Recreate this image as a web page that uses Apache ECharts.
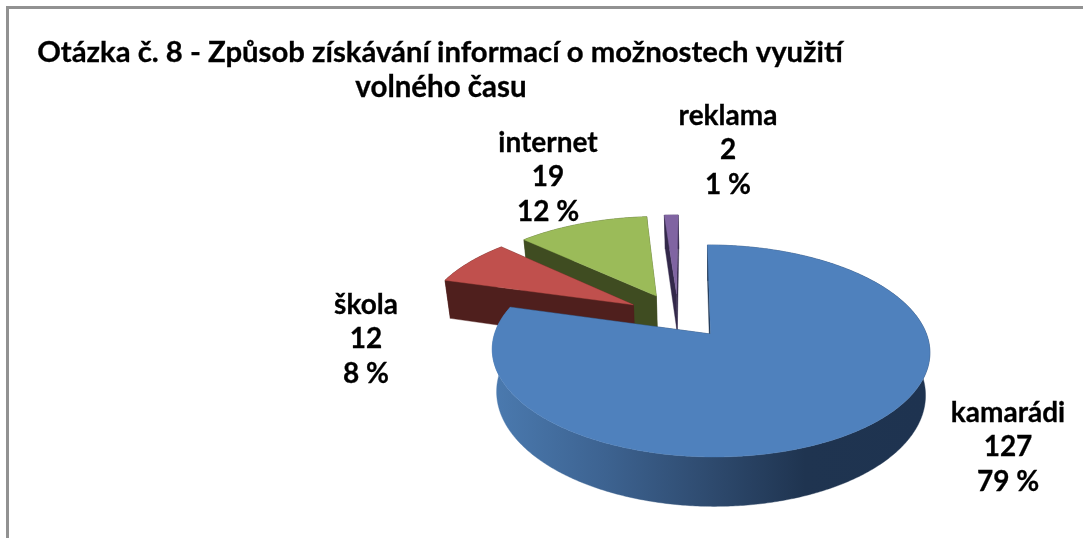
<!DOCTYPE html>
<html><head><meta charset="utf-8">
<style>html,body{margin:0;padding:0;background:#fff}#c{width:1083px;height:538px}</style>
<script src="https://cdn.jsdelivr.net/npm/echarts@6/dist/echarts.min.js"></script>
</head><body><div id="c"></div>
<script>
const categories = ['kamarádi', 'škola', 'internet', 'reklama'];
const values = [127, 12, 19, 2];
const percents = ['79 %', '8 %', '12 %', '1 %'];
const titleLines = ['Otázka č. 8 - Způsob získávání informací o možnostech využití', 'volného času'];

const topColors = ['#4F81BD', '#C0504D', '#9BBB59', '#8064A2'];
const wallColors = ['#1F3552', '#4F1F1D', '#3F4C21', '#33284A'];
const labelPlace = [[1008, 447], [366, 339], [548, 177], [728, 150]];
const titleTops = [30, 65];
const titleSizes = [29.3, 29.5];
const titleCenters = [435, 436];
const FONT = 'Lato, Carlito, sans-serif';

// Projection of the tilted pie plane
const CX = 710.5, CY = 334, R = 216, RK = 103.3, P = 0.16, H = 3.5, DEPTH = 41.5, NARROW = 0.98;
const EXPLODE_U = 0.25, EXPLODE_V = 0.23;

function project(u, v, z) {
  const s = 1 / (1 - P * v);
  const c = z ? NARROW : 1;
  return [CX + (R * u * s + H * v * s) * c, CY + RK * v * s + z * DEPTH * s];
}
const total = values.reduce((a, b) => a + b, 0);
const slices = [];
let acc = 0;
values.forEach((val) => {
  const a0 = acc / total * 2 * Math.PI;
  acc += val;
  const a1 = acc / total * 2 * Math.PI;
  const m = (a0 + a1) / 2;
  slices.push({ a0, a1, ou: Math.sin(m) * EXPLODE_U, ov: -Math.cos(m) * EXPLODE_V });
});
const base = { ou: slices[0].ou, ov: slices[0].ov };

const blueWall = new echarts.graphic.LinearGradient(497, 0, 925, 0, [
  { offset: 0, color: '#4A79AE' }, { offset: 0.25, color: '#3D6391' },
  { offset: 0.5, color: '#2E4A6E' }, { offset: 0.72, color: '#1F3450' }, { offset: 1, color: '#1E3350' }
], true);

function renderSlice(params, api) {
  const i = params.dataIndex;
  const sl = slices[i];
  const ou = sl.ou - base.ou, ov = sl.ov - base.ov;
  const pt = (a, r, z) => project(ou + Math.sin(a) * r, ov - Math.cos(a) * r, z);
  const steps = Math.max(2, Math.ceil((sl.a1 - sl.a0) / 0.01));
  const arc = [];
  for (let k = 0; k <= steps; k++) arc.push(sl.a0 + (sl.a1 - sl.a0) * k / steps);
  const order = (slices.length - i) * 10;
  const wallFill = i === 0 ? blueWall : wallColors[i];
  const children = [];
  const poly = (points, fill, z2) => children.push({
    type: 'polygon', shape: { points }, z2,
    style: { fill, stroke: fill, lineWidth: 0.4 }
  });
  const apexT = project(ou, ov, 0), apexB = project(ou, ov, 1);
  poly([pt(sl.a1, 1, 0), apexT, apexB, pt(sl.a1, 1, 1)], wallColors[i], order);
  poly(arc.map(a => pt(a, 1, 0)).concat(arc.slice().reverse().map(a => pt(a, 1, 1))), wallFill, order + 1);
  poly([apexT, pt(sl.a0, 1, 0), pt(sl.a0, 1, 1), apexB], wallColors[i], order + 2);
  poly([apexT].concat(arc.map(a => pt(a, 1, 0))), topColors[i], order + 3);
  children.push({
    type: 'text', z2: 100,
    x: labelPlace[i][0], y: labelPlace[i][1],
    style: {
      text: categories[i] + '\n' + api.value(0) + '\n' + percents[i],
      font: 'bold 28px ' + FONT, fill: '#000', lineHeight: 34.5,
      align: 'center', verticalAlign: 'middle',
      stroke: '#000', lineWidth: 0.3
    }
  });
  return { type: 'group', children };
}

const chart = echarts.init(document.getElementById('c'), null, { renderer: 'canvas' });
chart.setOption({
  animation: false,
  backgroundColor: '#fff',
  title: titleLines.map((t, i) => ({
    text: t, left: titleCenters[i], top: titleTops[i], textAlign: 'center',
    textStyle: { fontFamily: FONT, fontWeight: 'bold', fontSize: titleSizes[i], color: '#000', lineHeight: 35, textBorderColor: '#000', textBorderWidth: 0.3 }
  })),
  graphic: [
    { type: 'rect', shape: { x: 6, y: 6, width: 1077, height: 3 }, style: { fill: '#929292' } },
    { type: 'rect', shape: { x: 6, y: 6, width: 3, height: 532 }, style: { fill: '#929292' } }
  ],
  series: [{
    type: 'custom', coordinateSystem: 'none', renderItem: renderSlice,
    data: values.map((v, i) => ({ name: categories[i], value: [v] }))
  }]
});
</script></body></html>
